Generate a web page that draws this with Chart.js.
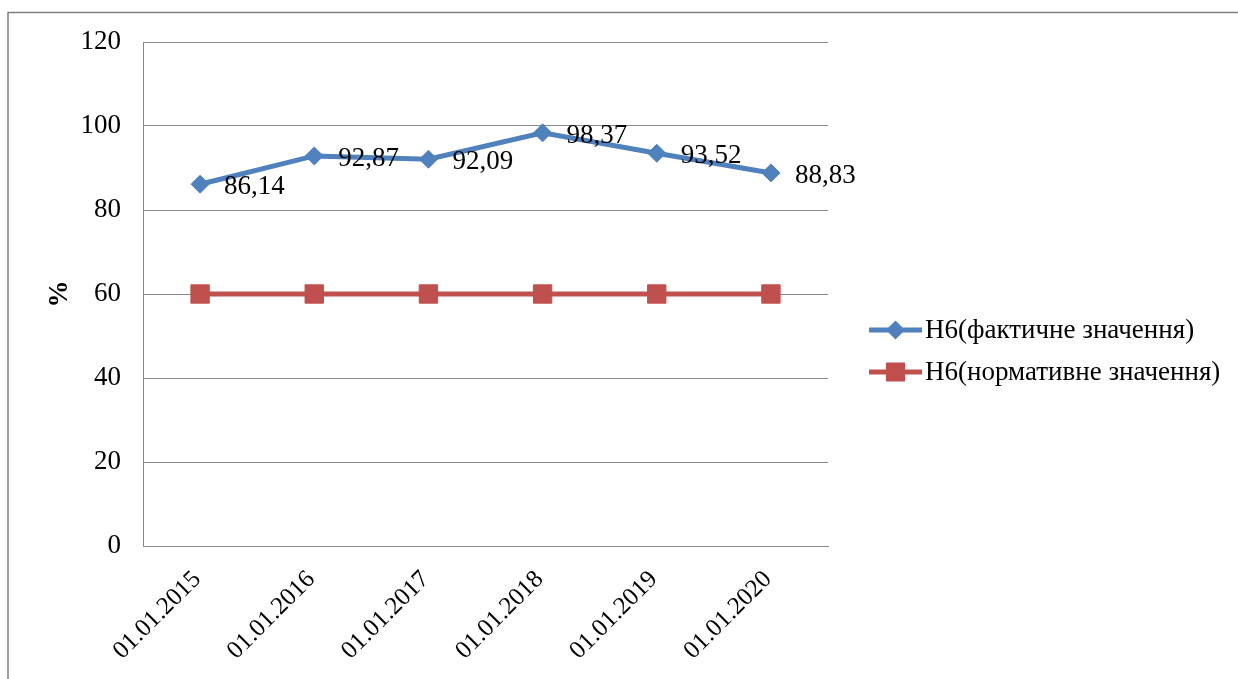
<!DOCTYPE html>
<html lang="uk">
<head>
    <meta charset="UTF-8">
    <title>Н6</title>
    <script src="https://cdn.jsdelivr.net/npm/chart.js"></script>
    <style>
        body { margin: 0; background: #fff; }
        #wrap { width: 1238px; height: 679px; }
    </style>
</head>
<body>
    <div id="wrap"><canvas id="chart"></canvas></div>

    <script>
// chart data
const dates = ['01.01.2015', '01.01.2016', '01.01.2017', '01.01.2018', '01.01.2019', '01.01.2020'];
const actualValues = [86.14, 92.87, 92.09, 98.37, 93.52, 88.83];
const normValues = [60, 60, 60, 60, 60, 60];
const seriesNames = ['Н6(фактичне значення)', 'Н6(нормативне значення)'];

const FONT = '"Liberation Serif", "Times New Roman", serif';
const FSIZE = 27;
const BLUE = '#4F81BD';
const RED = '#C0504D';
const GRID = '#8a8a8a';

// frame + white background
const framePlugin = {
    id: 'frame',
    beforeDraw(chart) {
        const ctx = chart.ctx;
        ctx.save();
        ctx.fillStyle = '#fff';
        ctx.fillRect(0, 0, chart.width, chart.height);
        ctx.strokeStyle = '#7f7f7f';
        ctx.lineWidth = 1.5;
        ctx.strokeRect(8, 12.5, chart.width + 20, chart.height + 20);
        ctx.restore();
    }
};

// value labels for the actual series (comma decimal)
const labelPlugin = {
    id: 'valueLabels',
    afterDatasetsDraw(chart) {
        const ctx = chart.ctx;
        const meta = chart.getDatasetMeta(0);
        ctx.save();
        ctx.font = FSIZE + 'px ' + FONT;
        ctx.fillStyle = '#000';
        ctx.textAlign = 'left';
        ctx.textBaseline = 'middle';
        meta.data.forEach((pt, i) => {
            const txt = actualValues[i].toFixed(2).replace('.', ',');
            ctx.fillText(txt, pt.x + 24, pt.y + 3);
        });
        ctx.restore();
    }
};

// legend on the right, line + marker like the original
const legendPlugin = {
    id: 'sideLegend',
    afterDraw(chart) {
        const ctx = chart.ctx;
        const x0 = 869, x1 = 922, rows = [330, 372];
        const markerSize = [6, 10];
        ctx.save();
        chart.data.datasets.forEach((ds, i) => {
            const y = rows[i];
            ctx.strokeStyle = ds.borderColor;
            ctx.lineWidth = 5;
            ctx.beginPath();
            ctx.moveTo(x0, y);
            ctx.lineTo(x1, y);
            ctx.stroke();
            Chart.helpers.drawPoint(ctx, {
                pointStyle: ds.pointStyle,
                radius: markerSize[i],
                borderWidth: 1
            }, (x0 + x1) / 2, y);
            ctx.fillStyle = ds.borderColor;
            ctx.fill();
            ctx.fillStyle = '#000';
            ctx.font = FSIZE + 'px ' + FONT;
            ctx.textAlign = 'left';
            ctx.textBaseline = 'middle';
            ctx.fillText(ds.label, x1 + 3, y + 1);
        });
        ctx.restore();
    }
};

new Chart(document.getElementById('chart'), {
    type: 'line',
    data: {
        labels: dates,
        datasets: [{
            label: seriesNames[0],
            data: actualValues,
            borderColor: BLUE,
            backgroundColor: BLUE,
            borderWidth: 5,
            pointStyle: 'rectRot',
            pointRadius: 9,
            pointBorderWidth: 1,
            tension: 0
        }, {
            label: seriesNames[1],
            data: normValues,
            borderColor: RED,
            backgroundColor: RED,
            borderWidth: 5,
            pointStyle: 'rect',
            pointRadius: 13,
            pointBorderWidth: 1,
            tension: 0
        }]
    },
    options: {
        responsive: true,
        maintainAspectRatio: false,
        animation: false,
        layout: { padding: { top: 42, right: 410, left: 0, bottom: 0 } },
        plugins: {
            legend: { display: false },
            tooltip: { enabled: false }
        },
        scales: {
            x: {
                offset: true,
                grid: { display: false, drawTicks: false },
                border: { display: true, color: GRID, width: 1 },
                ticks: {
                    color: '#000',
                    font: { family: FONT, size: 25 },
                    maxRotation: 45,
                    minRotation: 45,
                    padding: 19,
                    labelOffset: -3
                },
                afterFit(scale) { scale.height = 133; }
            },
            y: {
                min: 0,
                max: 120,
                ticks: {
                    stepSize: 20,
                    color: '#000',
                    font: { family: FONT, size: FSIZE },
                    padding: 22
                },
                grid: { color: GRID, lineWidth: 1, drawTicks: false },
                border: { display: true, color: GRID, width: 1 },
                title: {
                    display: true,
                    text: '%',
                    color: '#000',
                    font: { family: FONT, size: FSIZE, weight: 'bold' },
                    padding: { top: 44, bottom: 0 }
                },
                afterFit(scale) { scale.width = 143; }
            }
        }
    },
    plugins: [framePlugin, labelPlugin, legendPlugin]
});
    </script>
</body>
</html>
